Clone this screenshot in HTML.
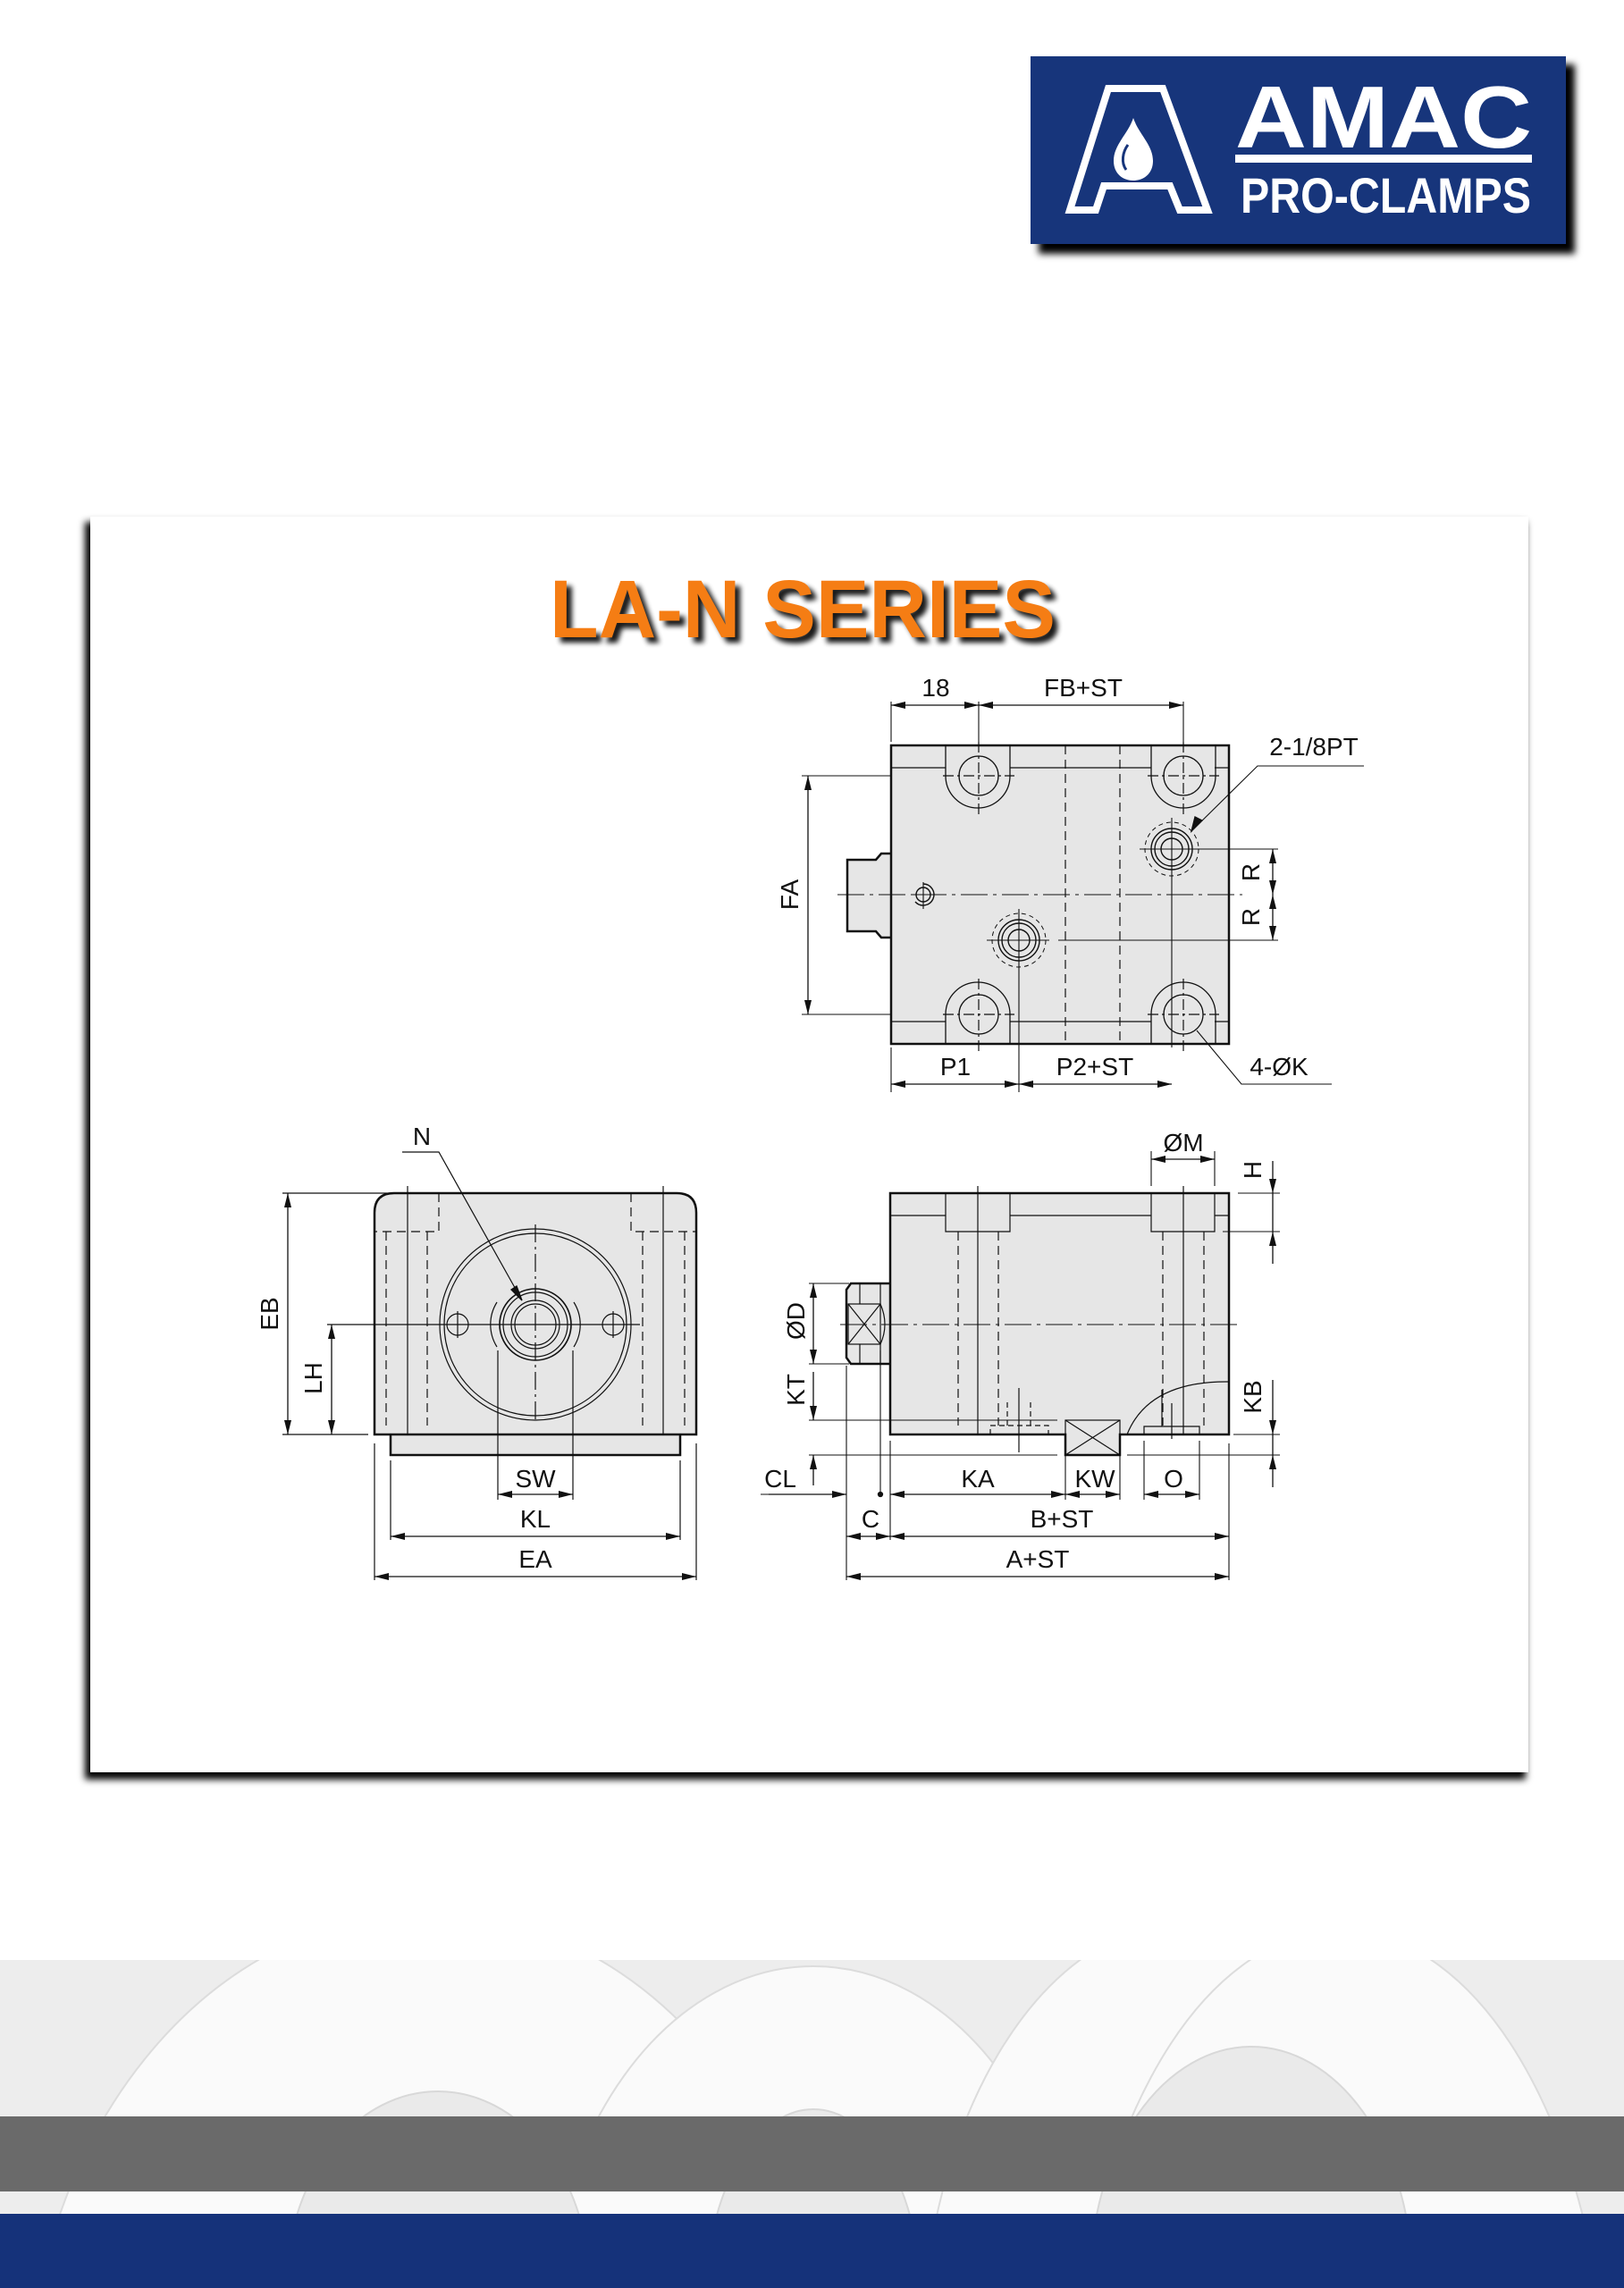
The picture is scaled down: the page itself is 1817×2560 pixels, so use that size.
<!DOCTYPE html>
<html><head><meta charset="utf-8"><style>
html,body{margin:0;padding:0;background:#fff;}
body{width:1817px;height:2560px;position:relative;overflow:hidden;font-family:"Liberation Sans",sans-serif;}
svg{position:absolute;left:0;top:0;}
</style></head><body>
<svg width="1817" height="2560" viewBox="0 0 1817 2560" xmlns="http://www.w3.org/2000/svg">
<defs>
<marker id="a" viewBox="0 0 16 10" markerWidth="16" markerHeight="10" refX="16" refY="5" orient="auto-start-reverse" markerUnits="userSpaceOnUse"><path d="M0,1 L16,5 L0,9 z" fill="#111"/></marker>
<filter id="sh" x="-10%" y="-10%" width="130%" height="130%"><feGaussianBlur stdDeviation="4"/></filter>
<filter id="tsh" x="-10%" y="-20%" width="130%" height="150%"><feGaussianBlur stdDeviation="3"/></filter>
<clipPath id="dc"><rect x="0" y="2193" width="1817" height="284"/></clipPath>
</defs>

<!-- bottom decoration -->
<g clip-path="url(#dc)">
<rect x="0" y="2193" width="1817" height="284" fill="#ededed"/>
<g fill="#fafafa" stroke="#dcdcdc" stroke-width="2">
<ellipse cx="480" cy="2700" rx="450" ry="560"/>
<ellipse cx="910" cy="2620" rx="300" ry="420"/>
<ellipse cx="1330" cy="2650" rx="300" ry="500"/>
<ellipse cx="1500" cy="2720" rx="300" ry="560"/>
</g>
<g fill="#eaeaea" stroke="#d8d8d8" stroke-width="2">
<ellipse cx="490" cy="2560" rx="170" ry="220"/>
<ellipse cx="910" cy="2570" rx="120" ry="210"/>
<ellipse cx="1400" cy="2550" rx="180" ry="260"/>
</g>
</g>
<rect x="0" y="2368" width="1817" height="84" fill="#6a6a6a"/>
<rect x="0" y="2477" width="1817" height="83" fill="#15327a"/>

<!-- logo -->
<rect x="1162" y="72" width="600" height="212" fill="#000" filter="url(#sh)"/>
<rect x="1153" y="63" width="599" height="210" fill="#17357b"/>
<path d="M1240,99 L1301,99 L1351,235 L1320,235 L1309,208 L1235,208 L1226,235 L1197,235 Z" fill="none" stroke="#fff" stroke-width="8" stroke-linejoin="miter"/>
<path d="M1268,132 C1262,150 1246,162 1246,180 C1246,194 1256,202 1268,202 C1280,202 1290,194 1290,180 C1290,162 1274,150 1268,132 Z" fill="#fff"/>
<path d="M1262,162 C1256,170 1254,182 1260,190" fill="none" stroke="#17357b" stroke-width="3"/>
<text x="1382" y="165" font-family="Liberation Sans" font-weight="bold" font-size="98" fill="#fff" textLength="332" lengthAdjust="spacingAndGlyphs">AMAC</text>
<rect x="1382" y="173" width="332" height="9" fill="#fff"/>
<text x="1388" y="238" font-family="Liberation Sans" font-weight="bold" font-size="56" fill="#fff" textLength="325" lengthAdjust="spacingAndGlyphs">PRO-CLAMPS</text>

<!-- panel -->
<rect x="95" y="584" width="1612" height="1407" fill="#000" filter="url(#sh)"/>
<rect x="101" y="578" width="1609" height="1405" fill="#fff"/>

<!-- title -->
<text x="621" y="719" font-family="Liberation Sans" font-weight="bold" font-size="92" fill="#000" opacity="0.9" filter="url(#tsh)" textLength="566" lengthAdjust="spacingAndGlyphs">LA-N SERIES</text>
<text x="615" y="713" font-family="Liberation Sans" font-weight="bold" font-size="92" fill="#f57d14" textLength="566" lengthAdjust="spacingAndGlyphs">LA-N SERIES</text>

<g font-family="Liberation Sans" font-size="28" fill="#111" text-anchor="middle">
<!-- ============ TOP VIEW ============ -->
<g stroke="#111" fill="none">
<path d="M997,955 L986,955 L980,962 L948,962 L948,1042 L980,1042 L986,1049 L997,1049" fill="#e6e6e6" stroke-width="2.5"/>
<rect x="997" y="834" width="378" height="334" fill="#e6e6e6" stroke-width="2.5"/>
<g stroke-width="1.3">
<path d="M997,859 H1058 M1130,859 H1288 M1359,859 H1375 M997,1143 H1058 M1130,1143 H1288 M1359,1143 H1375"/>
<path d="M1058,834 V868 A36,36 0 0 0 1130,868 V834"/>
<path d="M1288,834 V868 A36,36 0 0 0 1360,868 V834"/>
<path d="M1058,1168 V1135 A36,36 0 0 1 1130,1135 V1168"/>
<path d="M1288,1168 V1135 A36,36 0 0 1 1360,1135 V1168"/>
<circle cx="1095" cy="868" r="22"/><circle cx="1324" cy="868" r="22"/>
<circle cx="1095" cy="1135" r="22"/><circle cx="1324" cy="1135" r="22"/>
</g>
<g stroke-width="1.2" stroke-dasharray="12 4 3 4">
<path d="M1055,868 H1135 M1284,868 H1364 M1055,1135 H1135 M1284,1135 H1364"/>
<path d="M1095,830 V912 M1324,830 V912 M1095,1095 V1176 M1324,1095 V1176"/>
</g>
<g stroke-width="1.2" stroke-dasharray="10 6">
<path d="M1192,834 V1168 M1253,834 V1168"/>
</g>
<g stroke-width="1.4">
<circle cx="1311" cy="950" r="12"/><circle cx="1311" cy="950" r="19"/><circle cx="1311" cy="950" r="23"/>
<circle cx="1140" cy="1052" r="12"/><circle cx="1140" cy="1052" r="19"/><circle cx="1140" cy="1052" r="23"/>
<circle cx="1033" cy="1001" r="8"/><path d="M1033,989 A12,12 0 1 1 1024,1009"/>
</g>
<g stroke-width="1" stroke-dasharray="5 4">
<circle cx="1311" cy="950" r="30"/><circle cx="1140" cy="1052" r="30"/>
</g>
<g stroke-width="1.1">
<path d="M1275,950 H1343 M1311,915 V985 M1104,1052 H1174 M1140,1017 V1087 M1019,1001 H1047 M1033,987 V1017"/>
<path d="M1343,950 H1430 M1184,1052 H1430 M1311,985 V1172 M1140,1087 V1222"/>
<path d="M937,1001 H1390" stroke-dasharray="30 6 4 6"/>
<path d="M997,785 V830 M1095,785 V830 M1324,785 V830"/>
<path d="M897,868 H997 M897,1135 H997"/>
<path d="M997,1172 V1222"/>
<path d="M1526,857 H1407 L1333,930" />
<path d="M1490,1213 H1389 L1339,1153"/>
</g>
<g stroke-width="1.3">
<line x1="997" y1="789" x2="1095" y2="789" marker-start="url(#a)" marker-end="url(#a)"/>
<line x1="1095" y1="789" x2="1324" y2="789" marker-start="url(#a)" marker-end="url(#a)"/>
<line x1="904" y1="868" x2="904" y2="1135" marker-start="url(#a)" marker-end="url(#a)"/>
<line x1="1424" y1="950" x2="1424" y2="1001" marker-start="url(#a)" marker-end="url(#a)"/>
<line x1="1424" y1="1001" x2="1424" y2="1052" marker-start="url(#a)" marker-end="url(#a)"/>
<line x1="997" y1="1213" x2="1140" y2="1213" marker-start="url(#a)" marker-end="url(#a)"/>
<line x1="1140" y1="1213" x2="1311" y2="1213" marker-start="url(#a)" marker-end="url(#a)"/>
<path d="M1345,918 L1333,930 L1337,914 z" fill="#111"/>
</g>
</g>
<text x="1047" y="779">18</text>
<text x="1212" y="779">FB+ST</text>
<text transform="translate(893,1001) rotate(-90)">FA</text>
<text transform="translate(1409,976) rotate(-90)">R</text>
<text transform="translate(1409,1026) rotate(-90)">R</text>
<text x="1069" y="1203">P1</text>
<text x="1225" y="1203">P2+ST</text>
<text x="1470" y="845">2-1/8PT</text>
<text x="1431" y="1203">4-ØK</text>

<!-- ============ LEFT (END) VIEW ============ -->
<g stroke="#111" fill="none">
<path d="M437,1605 V1628 H761 V1605" fill="#e6e6e6" stroke-width="2.5"/>
<path d="M419,1605 V1357 Q419,1335 441,1335 H757 Q779,1335 779,1357 V1605 Z" fill="#e6e6e6" stroke-width="2.5"/>
<g stroke-width="1.2" stroke-dasharray="10 6">
<path d="M432,1378 V1595 M478,1378 V1595 M719,1378 V1595 M766,1378 V1595"/>
<path d="M491,1335 V1378 H419 M706,1335 V1378 H779"/>
</g>
<g stroke-width="1.2">
<path d="M456,1327 V1605 M742,1327 V1605"/>
<circle cx="599" cy="1482" r="107"/><circle cx="599" cy="1482" r="102"/>
<circle cx="599" cy="1482" r="40" stroke-width="1.6"/><circle cx="599" cy="1482" r="36"/>
<circle cx="599" cy="1482" r="27"/><circle cx="599" cy="1482" r="23"/>
<path d="M556,1457 A47,47 0 0 0 556,1507 M642,1457 A47,47 0 0 1 642,1507"/>
<circle cx="512" cy="1482" r="12"/><circle cx="686" cy="1482" r="12"/>
<path d="M366,1482 H716"/>
<path d="M599,1370 V1593" stroke-dasharray="20 5 3 5"/>
<path d="M512,1467 V1497 M686,1467 V1497"/>
<path d="M316,1335 H440 M316,1605 H412"/>
<path d="M557,1511 V1678 M641,1511 V1678 M437,1634 V1723 M761,1634 V1723 M419,1615 V1768 M779,1615 V1768"/>
<path d="M450,1289 H491 L584,1455"/>
</g>
<g stroke-width="1.3">
<line x1="322" y1="1335" x2="322" y2="1605" marker-start="url(#a)" marker-end="url(#a)"/>
<line x1="371" y1="1482" x2="371" y2="1605" marker-start="url(#a)" marker-end="url(#a)"/>
<line x1="557" y1="1672" x2="641" y2="1672" marker-start="url(#a)" marker-end="url(#a)"/>
<line x1="437" y1="1719" x2="761" y2="1719" marker-start="url(#a)" marker-end="url(#a)"/>
<line x1="419" y1="1764" x2="779" y2="1764" marker-start="url(#a)" marker-end="url(#a)"/>
<path d="M578,1439 L584,1455 L572,1443 z" fill="#111"/>
</g>
</g>
<text x="472" y="1281">N</text>
<text transform="translate(311,1470) rotate(-90)">EB</text>
<text transform="translate(360,1542) rotate(-90)">LH</text>
<text x="599" y="1664">SW</text>
<text x="599" y="1709">KL</text>
<text x="599" y="1754">EA</text>

<!-- ============ SIDE VIEW ============ -->
<g stroke="#111" fill="none">
<path d="M996,1436 H952 L947,1443 V1519 L952,1526 H996" fill="#e6e6e6" stroke-width="2.5"/>
<path d="M996,1335 H1375 V1605 H1253 V1628 H1192 V1605 H996 Z" fill="#e6e6e6" stroke-width="2.5"/>
<g stroke-width="1.2">
<path d="M962,1436 V1459 M962,1504 V1526 M985,1436 V1459 M985,1504 V1526"/>
<rect x="949" y="1459" width="36" height="45"/>
<path d="M949,1459 L985,1504 M985,1459 L949,1504 M985,1459 Q995,1482 985,1504"/>
<path d="M996,1360 H1058 M1130,1360 H1288 M1359,1360 H1375"/>
<path d="M1058,1335 V1378 H1130 V1335 M1288,1335 V1378 H1359 V1335"/>
<path d="M1094,1327 V1605 M1324,1327 V1605"/>
<rect x="1192" y="1589" width="61" height="39"/>
<path d="M1192,1589 L1253,1628 M1253,1589 L1192,1628"/>
<path d="M1261,1605 Q1285,1545 1375,1546"/>
<path d="M1280,1605 V1596 H1342 V1605"/>
<path d="M1300,1555 V1596 M1311,1570 V1610"/>
<path d="M1140,1553 V1625"/>
<path d="M1108,1605 V1595 H1173 V1605" stroke-dasharray="6 4"/>
<path d="M1127,1595 V1565 M1153,1595 V1565" stroke-dasharray="6 4"/>
</g>
<g stroke-width="1.2" stroke-dasharray="10 6">
<path d="M1072,1378 V1595 M1117,1378 V1595 M1301,1378 V1595 M1347,1378 V1595"/>
</g>
<g stroke-width="1.1">
<path d="M940,1482 H1385" stroke-dasharray="30 6 4 6"/>
<path d="M1288,1288 V1327 M1359,1288 V1327"/>
<path d="M1385,1335 H1432 M1368,1378 H1432 M1380,1605 H1432 M1261,1628 H1432 M905,1628 H1183"/>
<path d="M905,1436 H950 M905,1526 H950 M905,1589 H1183"/>
<path d="M947,1528 V1768 M985,1511 V1672 M996,1612 V1723 M1192,1628 V1678 M1253,1628 V1678 M1280,1612 V1678 M1342,1612 V1678 M1375,1615 V1768"/>
<path d="M851,1672 H947"/>
</g>
<g stroke-width="1.3">
<line x1="1288" y1="1297" x2="1359" y2="1297" marker-start="url(#a)" marker-end="url(#a)"/>
<line x1="1424" y1="1299" x2="1424" y2="1335" marker-end="url(#a)"/>
<line x1="1424" y1="1414" x2="1424" y2="1378" marker-end="url(#a)"/>
<line x1="1424" y1="1544" x2="1424" y2="1605" marker-end="url(#a)"/>
<line x1="1424" y1="1664" x2="1424" y2="1628" marker-end="url(#a)"/>
<path d="M1424,1335 V1378 M1424,1605 V1628"/>
<line x1="910" y1="1436" x2="910" y2="1526" marker-start="url(#a)" marker-end="url(#a)"/>
<line x1="910" y1="1535" x2="910" y2="1589" marker-end="url(#a)"/>
<line x1="910" y1="1662" x2="910" y2="1628" marker-end="url(#a)"/>
<line x1="860" y1="1672" x2="947" y2="1672" marker-end="url(#a)"/>
<line x1="996" y1="1672" x2="1192" y2="1672" marker-start="url(#a)" marker-end="url(#a)"/>
<line x1="1192" y1="1672" x2="1253" y2="1672" marker-start="url(#a)" marker-end="url(#a)"/>
<line x1="1280" y1="1672" x2="1342" y2="1672" marker-start="url(#a)" marker-end="url(#a)"/>
<line x1="947" y1="1719" x2="996" y2="1719" marker-start="url(#a)" marker-end="url(#a)"/>
<line x1="996" y1="1719" x2="1375" y2="1719" marker-start="url(#a)" marker-end="url(#a)"/>
<line x1="947" y1="1764" x2="1375" y2="1764" marker-start="url(#a)" marker-end="url(#a)"/>
<circle cx="985" cy="1672" r="2.5" fill="#111"/>
</g>
</g>
<text x="1324" y="1288">ØM</text>
<text transform="translate(1411,1309) rotate(-90)">H</text>
<text transform="translate(1411,1563) rotate(-90)">KB</text>
<text transform="translate(900,1478) rotate(-90)">ØD</text>
<text transform="translate(900,1555) rotate(-90)">KT</text>
<text x="873" y="1664">CL</text>
<text x="1094" y="1664">KA</text>
<text x="1225" y="1664">KW</text>
<text x="1313" y="1664">O</text>
<text x="974" y="1709">C</text>
<text x="1188" y="1709">B+ST</text>
<text x="1161" y="1754">A+ST</text>
</g>
</svg>
</body></html>
